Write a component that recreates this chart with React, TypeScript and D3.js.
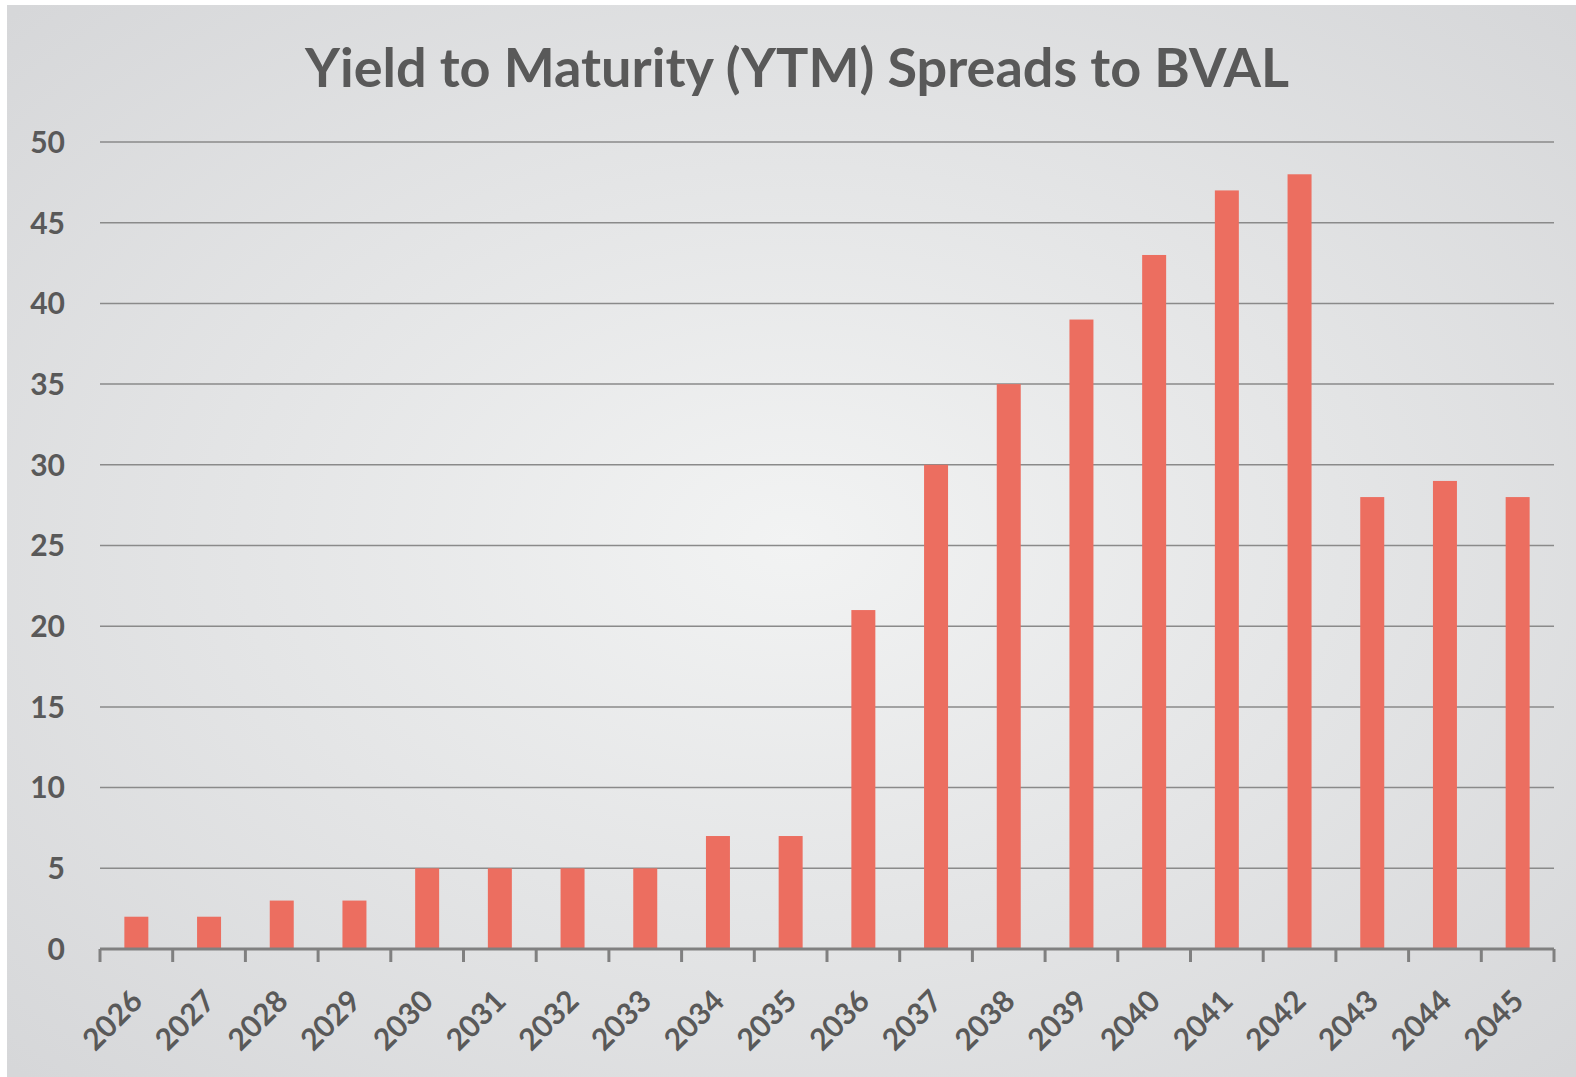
import React, { useEffect, useRef } from "react";
import * as d3 from "d3";

// data
const years = [
  "2026", "2027", "2028", "2029", "2030", "2031", "2032", "2033", "2034", "2035",
  "2036", "2037", "2038", "2039", "2040", "2041", "2042", "2043", "2044", "2045",
];
const spreads = [2, 2, 3, 3, 5, 5, 5, 5, 7, 7, 21, 30, 35, 39, 43, 47, 48, 28, 29, 28];
const yTicks = [0, 5, 10, 15, 20, 25, 30, 35, 40, 45, 50];
const title = "Yield to Maturity (YTM) Spreads to BVAL";

export default function App() {
  const ref = useRef<SVGSVGElement>(null);

  useEffect(() => {
    document.body.style.margin = "0";
    const width = 1576;
    const height = 1077;
    const margin = { top: 142, right: 22, bottom: 128, left: 100 };
    const innerWidth = width - margin.left - margin.right;
    const innerHeight = height - margin.top - margin.bottom;
    const font = "Lato, 'Open Sans', sans-serif";

    const svg = d3.select(ref.current);
    svg.selectAll("*").remove();

    // background gradient
    const defs = svg.append("defs");
    const grad = defs.append("radialGradient")
      .attr("id", "bg")
      .attr("cx", "50%").attr("cy", "50%").attr("r", "70%");
    grad.append("stop").attr("offset", "0%").attr("stop-color", "#f2f3f3");
    grad.append("stop").attr("offset", "100%").attr("stop-color", "#d6d7d9");

    svg.append("rect")
      .attr("width", width).attr("height", height).attr("fill", "#ffffff");
    svg.append("rect")
      .attr("x", 7).attr("y", 5)
      .attr("width", width - 7).attr("height", height - 5)
      .attr("fill", "url(#bg)");

    svg.append("text")
      .attr("x", 797)
      .attr("y", 87)
      .attr("text-anchor", "middle")
      .attr("font-family", font)
      .attr("font-weight", "bold")
      .attr("font-size", 54)
      .attr("fill", "#595959")
      .text(title);

    const g = svg.append("g")
      .attr("transform", `translate(${margin.left},${margin.top})`);

    const x = d3.scaleBand()
      .domain(years)
      .range([0, innerWidth])
      .paddingInner(0.67)
      .paddingOuter(0.335);

    const y = d3.scaleLinear()
      .domain([0, 50])
      .range([innerHeight, 0]);

    // gridlines
    g.append("g")
      .selectAll("line")
      .data(yTicks.filter(t => t > 0))
      .join("line")
      .attr("x1", 0)
      .attr("x2", innerWidth)
      .attr("y1", d => y(d))
      .attr("y2", d => y(d))
      .attr("stroke", "#8a8a8a")
      .attr("stroke-width", 1.5);

    // y labels
    g.append("g")
      .selectAll("text")
      .data(yTicks)
      .join("text")
      .attr("x", -35)
      .attr("y", d => y(d))
      .attr("dy", "0.36em")
      .attr("text-anchor", "end")
      .attr("font-family", font)
      .attr("font-weight", "bold")
      .attr("font-size", 30)
      .attr("fill", "#595959")
      .text(d => d);

    // bars
    g.append("g")
      .selectAll("rect")
      .data(spreads)
      .join("rect")
      .attr("x", (d, i) => x(years[i]))
      .attr("y", d => y(d))
      .attr("width", x.bandwidth())
      .attr("height", d => innerHeight - y(d))
      .attr("fill", "#ec6e60");

    // x axis line and ticks
    const step = x.step();
    const axis = g.append("g").attr("transform", `translate(0,${innerHeight})`);
    axis.append("line")
      .attr("x1", 0).attr("x2", innerWidth)
      .attr("stroke", "#808080").attr("stroke-width", 3);
    axis.selectAll("line.tick")
      .data(d3.range(years.length + 1))
      .join("line")
      .attr("class", "tick")
      .attr("x1", d => d * step).attr("x2", d => d * step)
      .attr("y1", 0).attr("y2", 13)
      .attr("stroke", "#808080").attr("stroke-width", 3);

    axis.selectAll("text")
      .data(years)
      .join("text")
      .attr("transform", d => `translate(${x(d) + x.bandwidth() / 2 + 8},${54}) rotate(-45)`)
      .attr("text-anchor", "end")
      .attr("font-family", font)
      .attr("font-weight", "bold")
      .attr("font-size", 30)
      .attr("fill", "#595959")
      .text(d => d);
  }, []);

  return <svg ref={ref} width={1576} height={1077} style={{ display: "block" }} />;
}
